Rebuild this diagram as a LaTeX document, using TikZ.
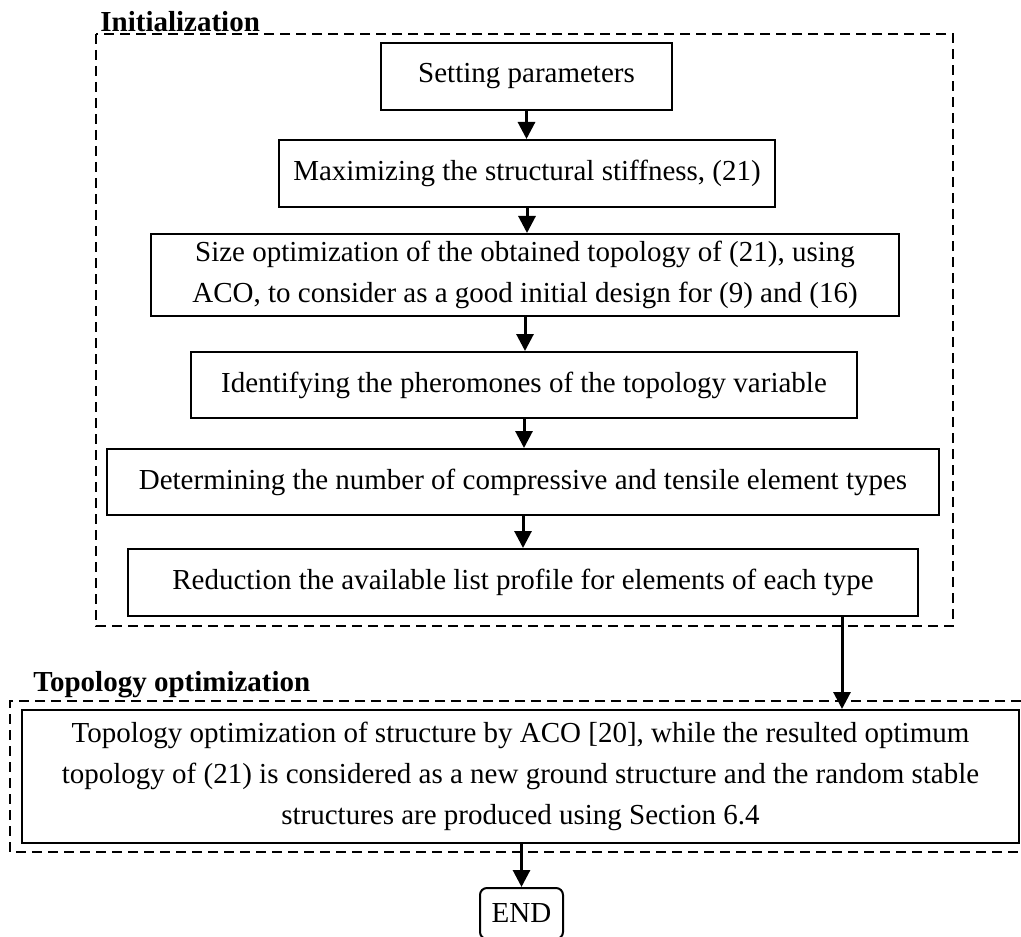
\documentclass[tikz,border=0pt]{standalone}
\usepackage{fontspec}
\setmainfont{Liberation Serif}
\usetikzlibrary{arrows.meta}
\tikzset{stage/.style={draw, line width=1pt, align=center, inner sep=2pt,
  font=\fontsize{14.5pt}{20.5pt}\selectfont}}
\tikzset{flow/.style={line width=1.5pt, -{Triangle[width=8.5pt,length=8.5pt]}}}
\tikzset{group/.style={line width=1pt, dash pattern=on 5pt off 3pt}}
\tikzset{grouptitle/.style={anchor=base west, inner sep=0pt,
  font=\fontsize{14.5pt}{17pt}\selectfont\bfseries}}

\begin{document}
\begin{tikzpicture}[x=.5pt, y=-.5pt]
\useasboundingbox (0,0) rectangle (1021,936);

\draw[group] (96,34) rectangle (953,626);
\node[grouptitle] (initlabel) at (100,32) {Initialization};

\node[stage, minimum width=145.5pt, minimum height=33.5pt] (setting) at (526.5,76.5) {Setting parameters};
\node[stage, minimum width=248pt, minimum height=33.5pt] (stiffness) at (527,173.5) {Maximizing the structural stiffness, (21)};
\node[stage, minimum width=374pt, minimum height=41pt] (sizing) at (525,275) {Size optimization of the obtained topology of (21), using\\ACO, to consider as a good initial design for (9) and (16)};
\node[stage, minimum width=333pt, minimum height=33pt] (pheromone) at (524,385) {Identifying the pheromones of the topology variable};
\node[stage, minimum width=416pt, minimum height=33pt] (types) at (523,482) {Determining the number of compressive and tensile element types};
\node[stage, minimum width=395pt, minimum height=33.5pt] (profile) at (523,582.5) {Reduction the available list profile for elements of each type};

\draw[flow] (setting.south) -- (setting.south |- stiffness.north);
\draw[flow] (stiffness.south) -- (stiffness.south |- sizing.north);
\draw[flow] (sizing.south) -- (sizing.south |- pheromone.north);
\draw[flow] (pheromone.south) -- (pheromone.south |- types.north);
\draw[flow] (types.south) -- (types.south |- profile.north);

\draw[group] (1021,701) -| (10,852) -- (1021,852);
\node[grouptitle] (topolabel) at (33,691) {Topology optimization};

\node[stage, minimum width=498.5pt, minimum height=66.5pt] (topo) at (520.5,776.5) {Topology optimization of structure by ACO [20], while the resulted optimum\\topology of (21) is considered as a new ground structure and the random stable\\structures are produced using Section 6.4};
\node[stage, rounded corners=3.5pt, minimum width=41.5pt, minimum height=25.5pt] (finish) at (521.5,913.5) {END};

\coordinate (handover) at (842,616);
\draw[flow] (handover) -- (handover |- topo.north);
\draw[flow] (finish.north |- topo.south) -- (finish.north);
\end{tikzpicture}
\end{document}
